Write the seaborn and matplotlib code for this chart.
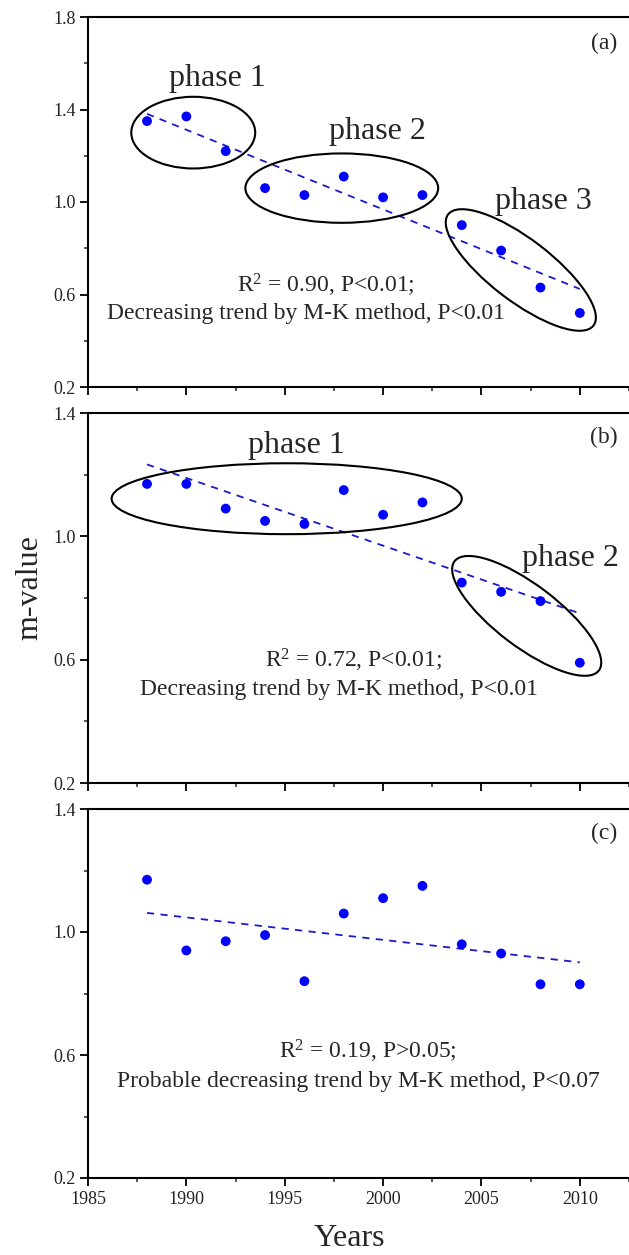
import numpy as np
import pandas as pd
import matplotlib
matplotlib.use("Agg")
import matplotlib.pyplot as plt
import matplotlib.transforms as mtransforms
from matplotlib.patches import Ellipse
from matplotlib.ticker import MultipleLocator, FormatStrFormatter
import seaborn as sns

# ---------------- data ----------------
years = [1988, 1990, 1992, 1994, 1996, 1998, 2000, 2002, 2004, 2006, 2008, 2010]
m_a = [1.35, 1.37, 1.22, 1.06, 1.03, 1.11, 1.02, 1.03, 0.90, 0.79, 0.63, 0.52]
m_b = [1.17, 1.17, 1.09, 1.05, 1.04, 1.15, 1.07, 1.11, 0.85, 0.82, 0.79, 0.59]
m_c = [1.17, 0.94, 0.97, 0.99, 0.84, 1.06, 1.11, 1.15, 0.96, 0.93, 0.83, 0.83]
panel_labels = ["(a)", "(b)", "(c)"]
stats_line1 = [r"R$^{2}$ = 0.90, P<0.01;", r"R$^{2}$ = 0.72, P<0.01;", r"R$^{2}$ = 0.19, P>0.05;"]
stats_line2 = ["Decreasing trend by M-K method, P<0.01",
               "Decreasing trend by M-K method, P<0.01",
               "Probable decreasing trend by M-K method, P<0.07"]
xticks = [1985, 1990, 1995, 2000, 2005, 2010]
yticks_a = [0.2, 0.6, 1.0, 1.4, 1.8]
yticks_bc = [0.2, 0.6, 1.0, 1.4]

# ---------------- style ----------------
sns.set_style("ticks")
plt.rcParams['font.family'] = ['Liberation Serif', 'DejaVu Serif']
plt.rcParams['mathtext.fontset'] = 'custom'
plt.rcParams['mathtext.rm'] = 'Liberation Serif'
plt.rcParams['mathtext.it'] = 'Liberation Serif:italic'
plt.rcParams['axes.linewidth'] = 1.5

W, H = 629, 1255
fig = plt.figure(figsize=(W / 100, H / 100), dpi=100)
fig.patch.set_facecolor("white")

def add_ax(top_px, bot_px):
    left = 88 / W
    return fig.add_axes([left, 1 - bot_px / H, 1 - left, (bot_px - top_px) / H])

axes = [add_ax(17, 387), add_ax(413, 783), add_ax(809, 1178)]
series = [m_a, m_b, m_c]
ylims = [(0.2, 1.8), (0.2, 1.4), (0.2, 1.4)]
ytick_sets = [yticks_a, yticks_bc, yticks_bc]

for i, ax in enumerate(axes):
    df = pd.DataFrame({"year": years, "m": series[i]})
    sns.regplot(data=df, x="year", y="m", ax=ax, ci=None, truncate=True,
                scatter_kws=dict(s=50, color="#0000FF", alpha=1, edgecolor="none", zorder=3),
                line_kws=dict(color="#1a1acc", lw=1.3, ls=(0, (4, 3.5)), zorder=2))
    ax.set_xlim(1985, 2012.5)
    ax.set_ylim(*ylims[i])
    ax.set_xticks(xticks)
    ax.xaxis.set_minor_locator(MultipleLocator(2.5))
    ax.set_yticks(ytick_sets[i])
    ax.yaxis.set_minor_locator(MultipleLocator(0.2))
    ax.yaxis.set_major_formatter(FormatStrFormatter("%.1f"))
    ax.tick_params(axis="both", which="major", direction="out", length=6, width=1.3,
                   labelsize=13, pad=3, color="black", labelcolor="#222222")
    ax.tick_params(axis="both", which="minor", direction="out", length=3, width=1.1)
    ax.tick_params(axis="x", top=False)
    ax.tick_params(axis="y", right=False)
    for side in ["left", "bottom", "top"]:
        ax.spines[side].set_visible(True)
        ax.spines[side].set_color("black")
    ax.spines["right"].set_visible(False)
    ax.set_xlabel("")
    ax.set_ylabel("")
    if i < 2:
        ax.tick_params(axis="x", labelbottom=False)
    ax.set_facecolor("white")

# panel labels (placed in pixel coords of the figure)
label_y_px = [43, 437, 833]
for i, ax in enumerate(axes):
    fig.text(604 / W, 1 - label_y_px[i] / H, panel_labels[i], ha="center", va="center",
             fontsize=17)

# stats texts (data coords)
stat_pos = [((1997.1, 0.641), (1996.1, 0.52)),
            ((1998.5, 0.599), (1997.76, 0.502)),
            ((1999.2, 0.611), (1998.76, 0.513))]
for i, ax in enumerate(axes):
    (x1, y1), (x2, y2) = stat_pos[i]
    ax.text(x1, y1, stats_line1[i], ha="center", va="center", fontsize=17)
    ax.text(x2, y2, stats_line2[i], ha="center", va="center", fontsize=17)

# phase annotations
def phase_text(ax, x, y, s):
    ax.text(x, y, s, ha="center", va="center", fontsize=23)

phase_text(axes[0], 1991.6, 1.536, "phase 1")
phase_text(axes[0], 1999.7, 1.304, "phase 2")
phase_text(axes[0], 2008.15, 1.001, "phase 3")
phase_text(axes[1], 1995.57, 1.296, "phase 1")
phase_text(axes[1], 2009.5, 0.929, "phase 2")

def ellipse_data(ax, cx, cy, w, h):
    ax.add_patch(Ellipse((cx, cy), w, h, fill=False, ec="black", lw=1.5, zorder=4))

def ellipse_px(ax, cx, cy, w_px, h_px, angle):
    trans = fig.dpi_scale_trans + mtransforms.ScaledTranslation(cx, cy, ax.transData)
    ax.add_patch(Ellipse((0, 0), w_px / 100, h_px / 100, angle=angle, fill=False,
                         ec="black", lw=1.5, zorder=4, transform=trans, clip_on=False))

ellipse_data(axes[0], 1990.35, 1.30, 6.3, 0.31)
ellipse_data(axes[0], 1997.9, 1.06, 9.8, 0.30)
ellipse_px(axes[0], 2007.0, 0.706, 183, 62, -37.4)
ellipse_data(axes[1], 1995.1, 1.122, 17.8, 0.23)
ellipse_px(axes[1], 2007.3, 0.742, 181, 62, -37.1)

# axis titles
fig.text(30 / W, 1 - 588 / H, "m-value", rotation=90, ha="center", va="center", fontsize=23)
fig.text(349 / W, 1 - 1238 / H, "Years", ha="center", va="center", fontsize=23)

fig.savefig("out.png", dpi=100, facecolor="white")
